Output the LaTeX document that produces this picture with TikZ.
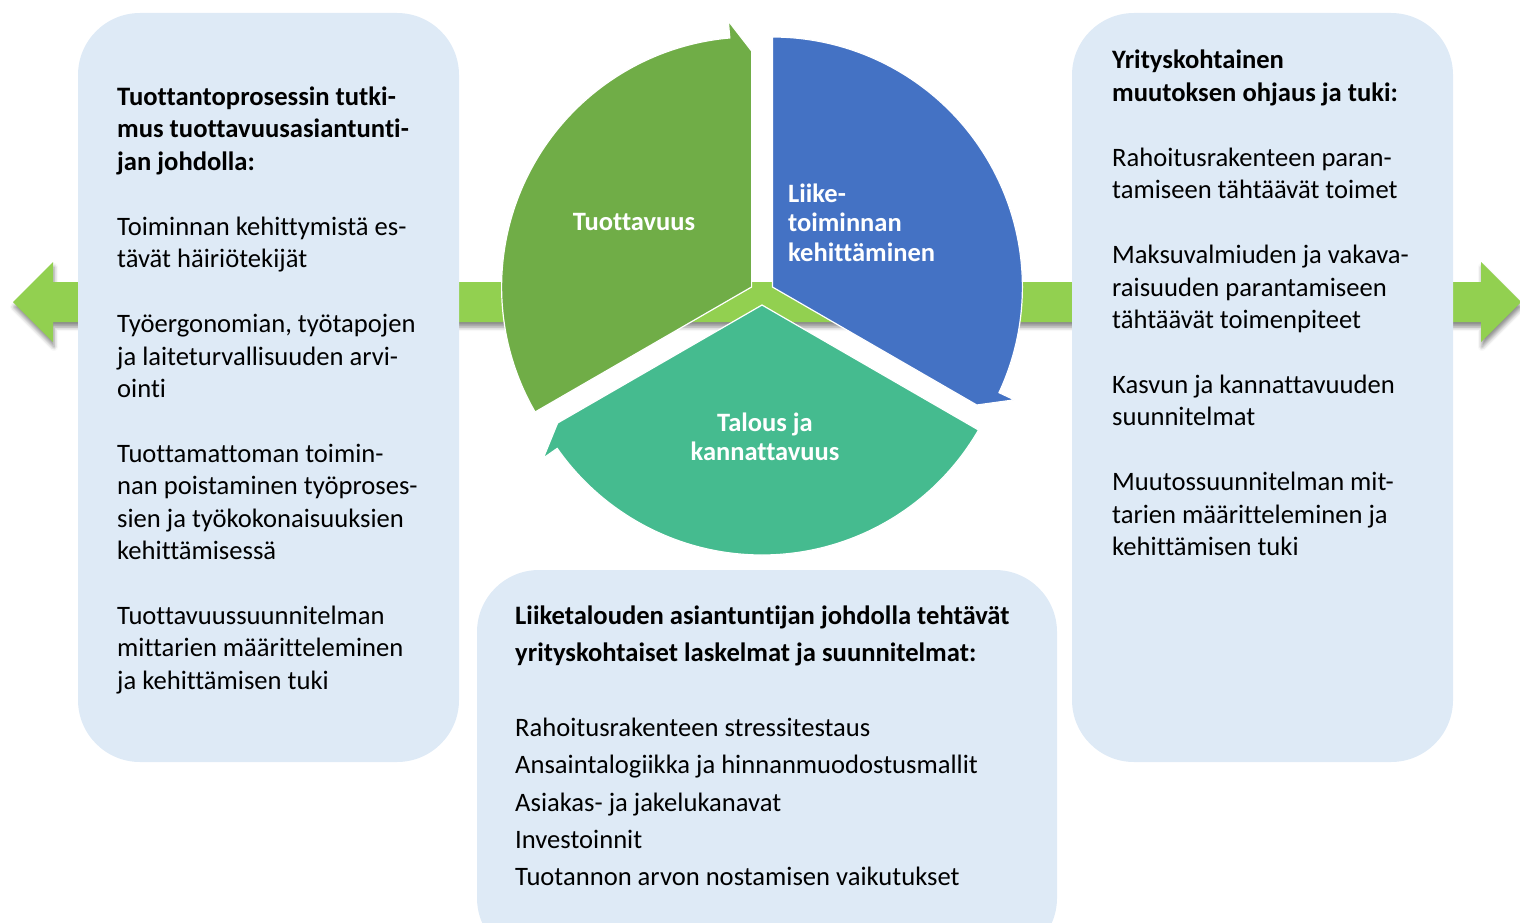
\documentclass[tikz,border=0pt]{standalone}
\usepackage{fontspec}
\setmainfont{Carlito}[Ligatures={NoCommon}]
\usetikzlibrary{calc,shadows.blur}

\definecolor{boxblue}{HTML}{DEEAF6}
\definecolor{bargreen}{HTML}{92D050}
\definecolor{wedgegreen}{HTML}{70AD47}
\definecolor{wedgeblue}{HTML}{4472C4}
\definecolor{wedgeteal}{HTML}{45BB8F}

\tikzset{
  textbox/.style={fill=boxblue, rounded corners=62pt},
  boxtext/.style={anchor=base west, inner sep=0pt, font=\fontsize{26.6}{32.44}\selectfont},
  segtext/.style={text=white, inner sep=0pt, font=\fontsize{26.5}{29.6}\selectfont\bfseries},
}

\begin{document}
\begin{tikzpicture}[x=1pt,y=-1pt]
\useasboundingbox (0,0) rectangle (1520,923);
\clip (0,0) rectangle (1520,923);
% long double arrow behind the boxes
\fill[bargreen, blur shadow={shadow xshift=1pt, shadow yshift=-5pt, shadow blur radius=4pt, shadow opacity=45}]
  (13,302) -- (53,262) -- (53,282) -- (1481,282) -- (1481,262) -- (1521,302)
  -- (1481,342) -- (1481,322) -- (53,322) -- (53,342) -- cycle;
% boxes
\fill[textbox] (78,13) rectangle (459,762);
\fill[textbox] (1072,13) rectangle (1453,762);
\fill[textbox] (477,570) rectangle (1057,960);
% cycle
\coordinate (gapex) at (751.6,287);
\coordinate (bapex) at (772.4,287);
\coordinate (tapex) at (762,305);
\foreach \p/\s/\e/\c in {gapex/210/90/wedgegreen, bapex/90/-30/wedgeblue, tapex/-30/-150/wedgeteal}
  \filldraw[\c, draw=white, line width=1.2pt] (\p) -- ++(\s:250pt)
    arc[start angle=\s, end angle=\e+5, radius=250pt]
    -- ($(\p)+(\e+5:267pt)$) -- ($(\p)+(\e:236pt)$) -- cycle;
\node[segtext, anchor=base] (tuot) at (634,230) {Tuottavuus};
\node[segtext, anchor=base west] (liike) at (788,202)
  {\parbox[t]{200pt}{\raggedright Liike-\\toiminnan\\kehittäminen}};
\node[segtext, anchor=base] (talous) at (765,431)
  {\parbox[t]{300pt}{\centering Talous ja\\kannattavuus}};
% left box
\node[boxtext] (lefttext) at (117,105.5) {\parbox[t]{335pt}{\raggedright
  {\bfseries Tuottantoprosessin tutki-\\mus tuottavuusasiantunti-\\jan johdolla:}\\[\baselineskip]
  Toiminnan kehittymistä es-\\tävät häiriötekijät\\[\baselineskip]
  Työergonomian, työtapojen\\ja laiteturvallisuuden arvi-\\ointi\\[\baselineskip]
  Tuottamattoman toimin-\\nan poistaminen työproses-\\sien ja työkokonaisuuksien\\kehittämisessä\\[\baselineskip]
  Tuottavuussuunnitelman\\mittarien määritteleminen\\ja kehittämisen tuki}};
% right box
\node[boxtext] (righttext) at (1112,69) {\parbox[t]{335pt}{\raggedright
  {\bfseries Yrityskohtainen\\muutoksen ohjaus ja tuki:}\\[\baselineskip]
  Rahoitusrakenteen paran-\\tamiseen tähtäävät toimet\\[\baselineskip]
  Maksuvalmiuden ja vakava-\\raisuuden parantamiseen\\tähtäävät toimenpiteet\\[\baselineskip]
  Kasvun ja kannattavuuden\\suunnitelmat\\[\baselineskip]
  Muutossuunnitelman mit-\\tarien määritteleminen ja\\kehittämisen tuki}};
% bottom box
\node[boxtext, font=\fontsize{26.6}{37.4}\selectfont] (bottomtext) at (515,624) {\parbox[t]{530pt}{\raggedright
  {\bfseries Liiketalouden asiantuntijan johdolla tehtävät\\yrityskohtaiset laskelmat ja suunnitelmat:}\\[\baselineskip]
  Rahoitusrakenteen stressitestaus\\
  Ansaintalogiikka ja hinnanmuodostusmallit\\
  Asiakas- ja jakelukanavat\\
  Investoinnit\\
  Tuotannon arvon nostamisen vaikutukset}};
\end{tikzpicture}
\end{document}
